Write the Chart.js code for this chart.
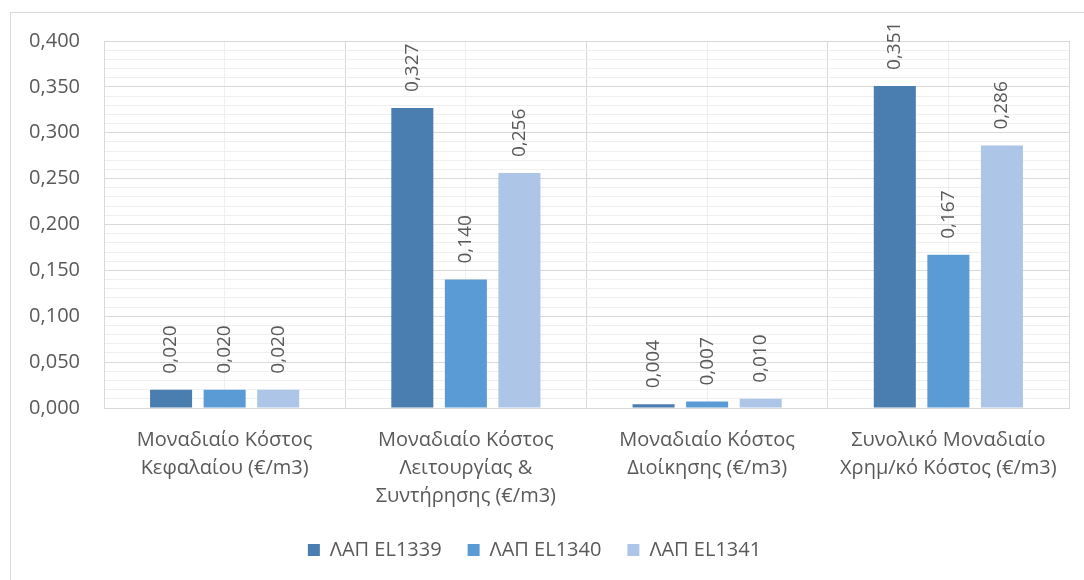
<!DOCTYPE html>
<html>
<head>
<meta charset="utf-8">
<script src="https://cdn.jsdelivr.net/npm/chart.js@4.4.1/dist/chart.umd.min.js"></script>
<style>
  html, body { margin: 0; padding: 0; background: #fff; overflow: hidden; }
  #frame { position: absolute; left: 10px; top: 12px; width: 1100px; height: 600px; border: 1px solid #d9d9d9; }
  #wrap { position: absolute; left: 0; top: 0; width: 1084px; height: 580px; }
</style>
</head>
<body>
<div id="frame"></div>
<div id="wrap"><canvas id="chart"></canvas></div>
<script>
const categories = [
    ['Μοναδιαίο Κόστος', 'Κεφαλαίου (€/m3)'],
    ['Μοναδιαίο Κόστος', 'Λειτουργίας &', 'Συντήρησης (€/m3)'],
    ['Μοναδιαίο Κόστος', 'Διοίκησης (€/m3)'],
    ['Συνολικό Μοναδιαίο', 'Χρημ/κό Κόστος (€/m3)']
];
const seriesNames = ['ΛΑΠ EL1339', 'ΛΑΠ EL1340', 'ΛΑΠ EL1341'];
const el1339 = [0.020, 0.327, 0.004, 0.351];
const el1340 = [0.020, 0.140, 0.007, 0.167];
const el1341 = [0.020, 0.256, 0.010, 0.286];
const colors = ['#4a7eb0', '#5b9bd5', '#adc6e7'];

const textColor = '#595959';
const fontFamily = '"Open Sans", "Noto Sans", sans-serif';

function fmt(v) {
    return v.toFixed(3).replace('.', ',');
}

function isMajor(v) {
    return Math.round(v * 1000) % 50 === 0;
}

// rotated value labels above each bar
const barLabels = {
    id: 'barLabels',
    afterDatasetsDraw(chart) {
        const ctx = chart.ctx;
        ctx.save();
        ctx.fillStyle = textColor;
        ctx.font = '19px ' + fontFamily;
        ctx.textAlign = 'left';
        ctx.textBaseline = 'middle';
        chart.data.datasets.forEach((ds, i) => {
            chart.getDatasetMeta(i).data.forEach((bar, j) => {
                ctx.save();
                ctx.translate(bar.x, bar.y - 16);
                ctx.rotate(-Math.PI / 2);
                ctx.fillText(fmt(ds.data[j]), 0, 0);
                ctx.restore();
            });
        });
        ctx.restore();
    }
};

new Chart(document.getElementById('chart'), {
    type: 'bar',
    data: {
        labels: categories,
        datasets: [
            { label: seriesNames[0], data: el1339, backgroundColor: colors[0] },
            { label: seriesNames[1], data: el1340, backgroundColor: colors[1] },
            { label: seriesNames[2], data: el1341, backgroundColor: colors[2] }
        ]
    },
    options: {
        responsive: true,
        maintainAspectRatio: false,
        animation: false,
        categoryPercentage: 0.666,
        barPercentage: 0.785,
        layout: { padding: { top: 41, left: 0, right: 15, bottom: 10 } },
        plugins: {
            tooltip: { enabled: false },
            legend: {
                position: 'bottom',
                labels: {
                    boxWidth: 12,
                    boxHeight: 12,
                    padding: 26,
                    color: textColor,
                    font: { family: fontFamily, size: 20 }
                }
            }
        },
        scales: {
            x: {
                grid: { offset: true, color: '#d9d9d9', drawTicks: false },
                border: { color: '#d9d9d9' },
                ticks: {
                    color: textColor,
                    padding: 18,
                    maxRotation: 0,
                    font: { family: fontFamily, size: 20, lineHeight: 1.4 }
                },
                afterFit(scale) { scale.height = 106; }
            },
            x2: {
                type: 'category',
                position: 'bottom',
                offset: true,
                grid: { offset: false, color: '#efefef', drawTicks: false },
                border: { display: false },
                ticks: { display: false },
                afterFit(scale) { scale.height = 0; }
            },
            y: {
                min: 0,
                max: 0.4,
                grid: {
                    drawTicks: false,
                    color: ctx => isMajor(ctx.tick.value) ? '#d9d9d9' : '#efefef'
                },
                border: { color: '#d9d9d9' },
                ticks: {
                    stepSize: 0.01,
                    autoSkip: false,
                    padding: 24,
                    color: textColor,
                    font: { family: fontFamily, size: 20 },
                    callback: v => isMajor(v) ? fmt(v) : ''
                },
                afterFit(scale) { scale.width = 104; }
            }
        }
    },
    plugins: [barLabels]
});
</script>
</body>
</html>
